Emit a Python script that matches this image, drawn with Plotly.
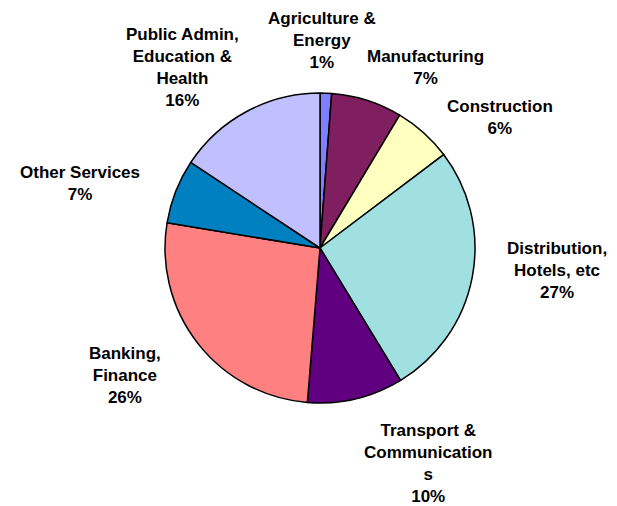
import plotly.graph_objects as go

sectors = ["Agriculture &<br>Energy", "Manufacturing", "Construction",
           "Distribution,<br>Hotels, etc", "Transport &<br>Communication<br>s",
           "Banking,<br>Finance", "Other Services", "Public Admin,<br>Education &<br>Health"]
shares = [1.2, 7.4, 6.1, 26.6, 10.0, 26.3, 6.7, 15.7]
colors = ["#8080FF", "#7F1F5F", "#FFFFC0", "#A0E0E0", "#600080",
          "#FF8080", "#0080C0", "#C0C0FF"]

# page has an 8px body margin; work in window pixels and convert
OFF = 8
W, H = 617 - OFF, 506 - OFF

# label centres in window pixels (x, y from top)
label_pos = [(322, 40), (425, 68), (500, 117), (557, 270),
             (428, 463), (125, 375), (80, 184), (182, 68)]


def px_x(x):
    return (x - OFF) / W


def px_y(y):
    return 1 - (y - OFF) / H


fig = go.Figure(go.Pie(
    labels=[s.replace("<br>", " ") for s in sectors],
    values=shares,
    sort=False,
    direction="clockwise",
    rotation=0,
    marker=dict(colors=colors, line=dict(color="black", width=1.5)),
    textinfo="none",
    hoverinfo="label+percent",
    showlegend=False,
    domain=dict(x=[px_x(165), px_x(475)], y=[px_y(403), px_y(93)]),
))

total = sum(shares)
annotations = []
for name, v, (px, py) in zip(sectors, shares, label_pos):
    pct = f"{round(v / total * 100)}%"
    annotations.append(dict(
        text=f"{name}<br>{pct}", x=px_x(px), y=px_y(py),
        xref="paper", yref="paper", xanchor="center", yanchor="middle",
        showarrow=False, align="center",
        font=dict(family="Liberation Sans, Arial, sans-serif", size=17,
                  color="black", weight="bold"),
    ))

fig.update_layout(
    width=W, height=H,
    margin=dict(l=0, r=0, t=0, b=0),
    paper_bgcolor="white", plot_bgcolor="white",
    annotations=annotations,
)
fig.write_html("out.html")
